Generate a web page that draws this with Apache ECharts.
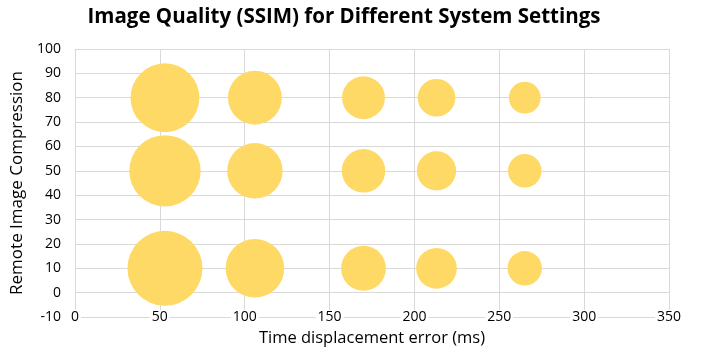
<!DOCTYPE html>
<html>
<head>
<meta charset="utf-8">
<script src="https://cdn.jsdelivr.net/npm/echarts@6/dist/echarts.min.js"></script>
<style>html,body{margin:0;padding:0;background:#fff}#c{width:702px;height:352px}</style>
</head>
<body>
<div id="c"></div>
<script>
var titleText = 'Image Quality (SSIM) for Different System Settings';
var xName = 'Time displacement error (ms)';
var yName = 'Remote Image Compression';
var timeErrors = [53, 106, 170, 213, 265];
var compressionLevels = [80, 50, 10];
var quality80 = [0.80, 0.49, 0.31, 0.24, 0.17];
var quality50 = [0.86, 0.52, 0.32, 0.26, 0.19];
var quality10 = [0.95, 0.58, 0.34, 0.28, 0.20];
var qualityRows = [quality80, quality50, quality10];

var maxQ = 0.95;
var data = [];
compressionLevels.forEach(function (c, i) {
  timeErrors.forEach(function (t, j) {
    data.push([t, c, qualityRows[i][j]]);
  });
});
var FONT = 'Open Sans';
var chart = echarts.init(document.getElementById('c'));
chart.setOption({
  animation: false,
  title: {
    text: titleText, left: 339, top: 2, textAlign: 'center',
    textStyle: { fontFamily: FONT, fontWeight: 'bold', fontSize: 20.5, color: '#000' }
  },
  grid: { left: 75, right: 33, top: 49, bottom: 35, containLabel: false, outerBoundsMode: 'none' },
  xAxis: {
    type: 'value', min: 0, max: 350, interval: 50,
    name: xName, nameLocation: 'middle', nameGap: 13,
    nameTextStyle: { fontFamily: FONT, fontSize: 16.5, color: '#000' },
    axisLine: { show: false, onZero: false }, axisTick: { show: false },
    axisLabel: { fontFamily: FONT, fontSize: 14, color: '#000', margin: 0, verticalAlign: 'middle', backgroundColor: '#fff', padding: [0, 2] },
    splitLine: { show: true, lineStyle: { color: '#D9D9D9', width: 1 } }
  },
  yAxis: {
    type: 'value', min: -10, max: 100, interval: 10,
    name: yName, nameLocation: 'middle', nameGap: 48,
    nameTextStyle: { fontFamily: FONT, fontSize: 17, color: '#000' },
    axisLine: { show: false }, axisTick: { show: false },
    axisLabel: { fontFamily: FONT, fontSize: 14, color: '#000', margin: 14 },
    splitLine: { show: true, lineStyle: { color: '#D9D9D9', width: 1 } }
  },
  series: [{
    type: 'scatter',
    data: data,
    symbolSize: function (v) { return 75 * Math.sqrt(v[2] / maxQ); },
    itemStyle: { color: '#FFD966', opacity: 1 }
  }]
});
</script>
</body>
</html>
